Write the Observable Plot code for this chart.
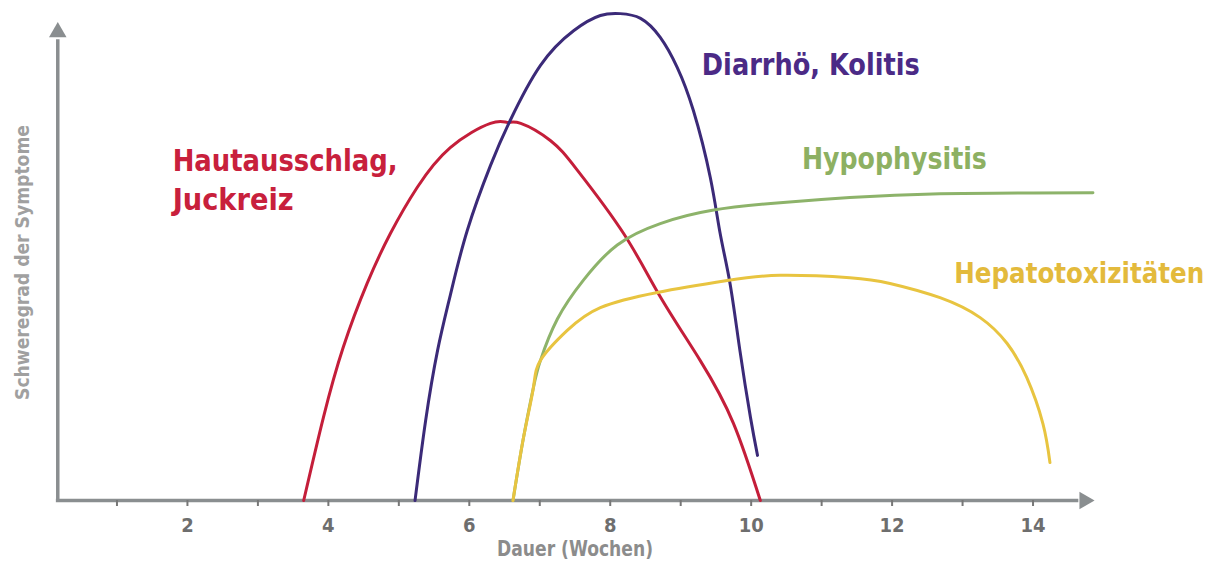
<!DOCTYPE html>
<html>
<head>
<meta charset="utf-8">
<script src="https://cdn.jsdelivr.net/npm/d3@7"></script>
<script src="https://cdn.jsdelivr.net/npm/@observablehq/plot@0.6"></script>
<style>
  html, body { margin: 0; padding: 0; background: #ffffff; }
  #chart svg { display: block; }
</style>
</head>
<body>
<div id="chart"></div>
<script>
// Series names
const seriesNames = ["Hautausschlag, Juckreiz", "Diarrhö, Kolitis", "Hypophysitis", "Hepatotoxizitäten"];

// Hautausschlag, Juckreiz (weeks / severity)
const hautWeeks = [3.65, 3.93, 4.21, 4.55, 4.88, 5.26, 5.73, 6.30, 6.54, 6.73, 7.15, 7.535, 8.19, 8.71, 9.28, 9.75, 10.13];
const hautSeverity = [0, 17.5, 32.2, 45.7, 56.2, 65.9, 74.3, 79.4, 79.6, 79.4, 75.8, 69.5, 56.2, 42.9, 29.4, 16.2, 0];

// Diarrhö, Kolitis
const diarWeeks = [5.23, 5.38, 5.55, 5.73, 5.97, 6.30, 6.58, 7.01, 7.48, 7.86, 8.14, 8.43, 8.71, 8.95, 9.18, 9.42, 9.56, 9.70, 9.84, 9.99, 10.09];
const diarSeverity = [0, 16.8, 31.6, 43.2, 56.8, 70.5, 80.0, 91.6, 98.9, 102.1, 102.5, 101.5, 97.5, 91.2, 82.1, 68.0, 56.2, 45.7, 31.6, 17.5, 9.5];

// Hypophysitis
const hypoWeeks = [6.62, 6.77, 6.91, 7.01, 7.25, 7.62, 8.10, 8.71, 9.45, 10.41, 11.40, 12.68, 14.85];
const hypoSeverity = [0, 13.3, 23.8, 29.5, 38.2, 46.4, 53.8, 58.3, 61.1, 62.7, 63.8, 64.6, 64.8];

// Hepatotoxizitäten
const hepaWeeks = [6.62, 6.77, 6.91, 7.01, 7.39, 7.86, 8.67, 9.66, 10.41, 11.40, 11.97, 12.68, 13.25, 13.63, 13.91, 14.14, 14.24];
const hepaSeverity = [0, 13.3, 23.8, 29.5, 35.8, 40.6, 43.8, 46.3, 47.4, 46.9, 45.7, 42.7, 38.5, 33.1, 25.9, 16.2, 8.0];

// Axis ticks and labels
const tickValues = [1, 2, 3, 4, 5, 6, 7, 8, 9, 10, 11, 12, 13, 14];
const labeledTicks = [2, 4, 6, 8, 10, 12, 14];
const xTitle = "Dauer (Wochen)";
const yTitle = "Schweregrad der Symptome";

// ---- build tables ----
const toRows = (name, xs, ys) => xs.map((x, i) => ({series: name, x, y: ys[i]}));
const rows = [
  ...toRows(seriesNames[0], hautWeeks, hautSeverity),
  ...toRows(seriesNames[1], diarWeeks, diarSeverity),
  ...toRows(seriesNames[2], hypoWeeks, hypoSeverity),
  ...toRows(seriesNames[3], hepaWeeks, hepaSeverity)
];

const lineColors = {
  [seriesNames[0]]: "#c41e3a",
  [seriesNames[1]]: "#3b2a78",
  [seriesNames[2]]: "#8db36a",
  [seriesNames[3]]: "#e8c440"
};
const textColors = {
  [seriesNames[0]]: "#c8203c",
  [seriesNames[1]]: "#4b2a86",
  [seriesNames[2]]: "#8db062",
  [seriesNames[3]]: "#e3ba3c"
};

// label annotations (anchor in data units)
const labelAnchors = [
  {series: seriesNames[0], text: "Hautausschlag,", x: 1.79, y: 71.3, anchor: "start", size: 30},
  {series: seriesNames[0], text: "Juckreiz", x: 1.79, y: 63.2, anchor: "start", size: 30},
  {series: seriesNames[1], text: "Diarrhö, Kolitis", x: 9.30, y: 91.6, anchor: "start", size: 30},
  {series: seriesNames[2], text: "Hypophysitis", x: 10.72, y: 71.8, anchor: "start", size: 30},
  {series: seriesNames[3], text: "Hepatotoxizitäten", x: 16.43, y: 47.6, anchor: "end", size: 28}
];
// rendered widths (px) of the condensed lettering
const targetWidths = new Map([
  ["Hautausschlag,", 225], ["Juckreiz", 121], ["Diarrhö, Kolitis", 218],
  ["Hypophysitis", 185], ["Hepatotoxizitäten", 250],
  [xTitle, 156], [yTitle, 275]
]);

const FONT = "'Liberation Sans Narrow', 'DejaVu Sans Condensed', 'Roboto Condensed', 'DejaVu Sans', sans-serif";
const axisGray = "#8a8e90";

const labelMark = (rowsSubset, anchor) => Plot.text(rowsSubset, {
  x: "x", y: "y", text: "text", fill: d => textColors[d.series],
  textAnchor: anchor, fontSize: rowsSubset[0].size, fontWeight: "bold"
});

const chart = Plot.plot({
  width: 1213,
  height: 566,
  marginTop: 25,
  marginBottom: 66,
  marginLeft: 46,
  marginRight: 110,
  style: {background: "#ffffff", fontFamily: FONT, overflow: "visible"},
  x: {domain: [0, 15]},
  y: {domain: [0, 100], axis: null},
  marks: [
    // axis lines
    Plot.ruleY([0], {x1: 0.14, x2: 14.65, stroke: axisGray, strokeWidth: 3.5}),
    Plot.ruleX([0.16], {y1: 0, y2: 97, stroke: axisGray, strokeWidth: 3.5}),
    Plot.dot([{x: 14.73, y: 0}], {x: "x", y: "y", symbol: "triangle", rotate: 90, r: 6.5, fill: axisGray, stroke: "none"}),
    Plot.dot([{x: 0.16, y: 98.6}], {x: "x", y: "y", symbol: "triangle", r: 6.5, fill: axisGray, stroke: "none"}),
    Plot.axisX({
      ticks: tickValues,
      tickSize: 6,
      tickPadding: 11,
      tickFormat: d => labeledTicks.includes(d) ? String(d) : "",
      stroke: "#777",
      strokeWidth: 2,
      fill: "#6e6e6e",
      fontSize: 20,
      fontWeight: "bold",
      label: null
    }),
    Plot.text([xTitle], {frameAnchor: "bottom", dy: 55, fill: "#8c8c8c", fontSize: 21, fontWeight: "bold"}),
    Plot.text([yTitle], {frameAnchor: "left", dx: -24, dy: 137, rotate: -90, textAnchor: "start", fill: "#a0a0a0", fontSize: 19, fontWeight: "bold"}),
    // curves
    Plot.line(rows, {x: "x", y: "y", z: "series", stroke: d => lineColors[d.series], strokeWidth: 3, curve: "natural"}),
    // labels
    labelMark(labelAnchors.filter(d => d.anchor === "start"), "start"),
    labelMark(labelAnchors.filter(d => d.anchor === "end"), "end")
  ]
});
chart.querySelectorAll("text").forEach(t => {
  const w = targetWidths.get(t.textContent);
  if (w) {
    t.setAttribute("textLength", w);
    t.setAttribute("lengthAdjust", "spacingAndGlyphs");
  }
});
document.getElementById("chart").appendChild(chart);
</script>
</body>
</html>
